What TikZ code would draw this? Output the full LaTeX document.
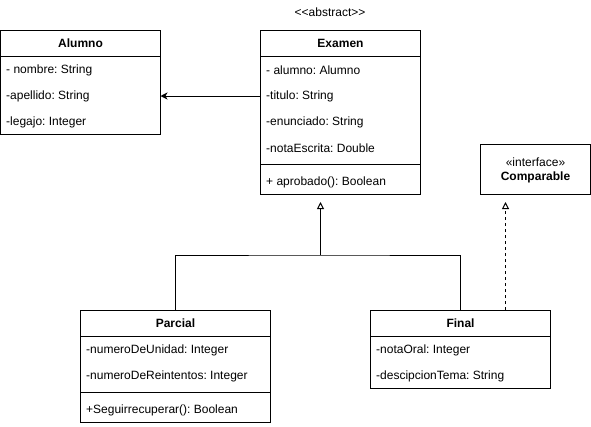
\documentclass[tikz,border=0pt]{standalone}
\usepackage{fontspec}
\setmainfont[Ligatures=NoCommon]{Liberation Sans}
\usetikzlibrary{arrows.meta,calc}
\frenchspacing
\newcommand{\fs}{\fontsize{12}{14}\selectfont}
\tikzset{
  cls/.style={draw, line width=1pt, inner sep=0pt, outer sep=0pt, anchor=north west},
  attr/.style={anchor=west, inner sep=0pt, font=\fs},
  ttl/.style={inner sep=0pt, font=\fs\bfseries},
  lnk/.style={line width=1pt},
  assoc/.style={lnk, -{Stealth[length=7pt,width=7pt,inset=2pt]}},
  inh/.style={lnk, -{Triangle[open,length=7pt,width=7pt]}},
  real/.style={lnk, dash pattern=on 3pt off 3pt, -{Triangle[open,length=7pt,width=7pt]}},
}
\begin{document}
\begin{tikzpicture}[x=1pt,y=-1pt]
\useasboundingbox (0,0) rectangle (591,426);

% Alumno
\node[cls, minimum width=160pt, minimum height=104pt] (alumno) at (0.5,30) {};
\node[ttl] (alumnoT) at (80.5,43) {Alumno};
\draw[lnk] ([yshift=-26pt]alumno.north west) -- ([yshift=-26pt]alumno.north east);
\node[attr] (a1) at (6,70) {- nombre: String};
\node[attr] (a2) at (6,96) {-apellido: String};
\node[attr] (a3) at (6,122) {-legajo: Integer};

% Examen
\node[font=\fs, inner sep=0pt] (abs) at (330,12) {{<}{<}abstract{>}{>}};
\node[cls, minimum width=160pt, minimum height=164pt] (examen) at (260.5,30) {};
\node[ttl] (examenT) at (340.5,43) {Examen};
\draw[lnk] ([yshift=-26pt]examen.north west) -- ([yshift=-26pt]examen.north east);
\node[attr] (e1) at (266,70) {- alumno: Alumno};
\node[attr] (e2) at (266,96) {-titulo: String};
\node[attr] (e3) at (266,122) {-enunciado: String};
\node[attr] (e4) at (266,148) {-notaEscrita: Double};
\draw[lnk] ([yshift=-134pt]examen.north west) -- ([yshift=-134pt]examen.north east);
\node[attr] (e5) at (266,182) {+ aprobado(): Boolean};

% Comparable
\node[cls, minimum width=110pt, minimum height=50pt] (comp) at (480.5,144) {};
\node[inner sep=0pt, font=\fs] (compS) at (535.5,162) {«interface»};
\node[ttl] (compT) at (535.5,177) {Comparable};

% Parcial
\node[cls, minimum width=190pt, minimum height=112pt] (parcial) at (80.5,310) {};
\node[ttl] (parcialT) at (175.5,323) {Parcial};
\draw[lnk] ([yshift=-26pt]parcial.north west) -- ([yshift=-26pt]parcial.north east);
\node[attr] (p1) at (86,350) {-numeroDeUnidad: Integer};
\node[attr] (p2) at (86,376) {-numeroDeReintentos: Integer};
\draw[lnk] ([yshift=-82pt]parcial.north west) -- ([yshift=-82pt]parcial.north east);
\node[attr] (p3) at (86,410) {+Seguirrecuperar(): Boolean};

% Final
\node[cls, minimum width=180pt, minimum height=78pt] (final) at (370.5,310) {};
\node[ttl] (finalT) at (460.5,323) {Final};
\draw[lnk] ([yshift=-26pt]final.north west) -- ([yshift=-26pt]final.north east);
\node[attr] (f1) at (376,350) {-notaOral: Integer};
\node[attr] (f2) at (376,376) {-descipcionTema: String};

% connectors
\draw[assoc] (e2 -| examen.west) -- (e2 -| alumno.east);

\coordinate (jn) at (320.5,255);
\coordinate (etip) at (320.5,202);
\draw[lnk] (parcial.north) |- (jn) -| (final.north);
\draw[inh] (jn) -- (etip);

\coordinate (rb) at (505.5,310);
\coordinate (rtip) at (505.5,202);
\draw[real] (rb) -- (rtip);
\end{tikzpicture}
\end{document}
